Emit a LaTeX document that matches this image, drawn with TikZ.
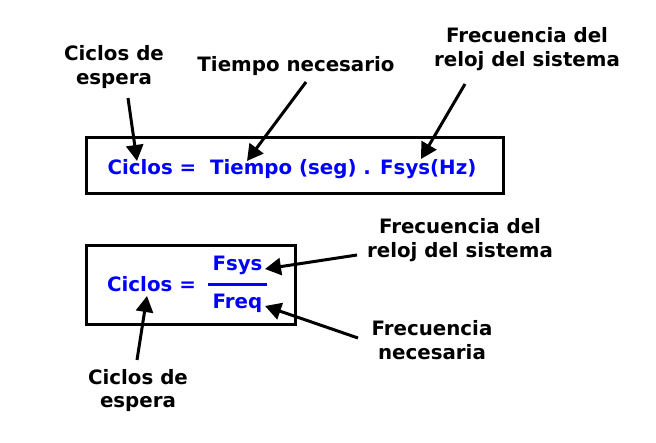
\documentclass[tikz,border=0pt]{standalone}
\usepackage{fontspec}
\setmainfont{DejaVu Sans}
\usetikzlibrary{arrows.meta}
\definecolor{formblue}{RGB}{0,0,255}
\tikzset{
  lbl/.style={font=\bfseries\fontsize{19.8}{24}\selectfont, align=center, inner sep=0pt, anchor=base},
  form/.style={font=\bfseries\fontsize{19.8}{24}\selectfont, text=formblue, inner sep=0pt, anchor=base},
  box/.style={draw=black, line width=3pt},
  pointer/.style={line width=3pt, -{Triangle[length=16pt,width=17pt]}},
}
\begin{document}
\begin{tikzpicture}[x=1pt,y=-1pt]
\useasboundingbox (0,0) rectangle (656,443);
% boxes
\draw[box] (86,138) rectangle (503,194);
\draw[box] (86,246) rectangle (295,325);
% top labels
\node[lbl] (l1) at (114,85) {Ciclos de\\espera};
\node[lbl] (l2) at (296,72) {Tiempo necesario};
\node[lbl] (l3) at (527,67) {Frecuencia del\\reloj del sistema};
% formula 1
\node[form] (f1) at (292,175) {Ciclos =\ \ Tiempo (seg) . Fsys(Hz)};
% formula 2
\node[form] (c2) at (151.5,292) {Ciclos =};
\node[form] (num) at (237.5,271) {Fsys};
\node[form] (den) at (237.5,309) {Freq};
\draw[formblue, line width=3pt] (208,285) -- (267,285);
% bottom labels
\node[lbl] (r1) at (460,258) {Frecuencia del\\reloj del sistema};
\node[lbl] (r2) at (432,360) {Frecuencia\\necesaria};
\node[lbl] (b1) at (138,408) {Ciclos de\\espera};
% arrow coordinates
\coordinate (s1) at (128,98);  \coordinate (t1) at (137,161);
\coordinate (s2) at (306,82);  \coordinate (t2) at (247,161);
\coordinate (s3) at (465,84);  \coordinate (t3) at (421,159);
\coordinate (s4) at (357,255); \coordinate (t4) at (265,269);
\coordinate (s5) at (358,338); \coordinate (t5) at (265,306);
\coordinate (s6) at (137,360); \coordinate (t6) at (147,296);
\draw[pointer] (s1) -- (t1);
\draw[pointer] (s2) -- (t2);
\draw[pointer] (s3) -- (t3);
\draw[pointer] (s4) -- (t4);
\draw[pointer] (s5) -- (t5);
\draw[pointer] (s6) -- (t6);
\end{tikzpicture}
\end{document}
